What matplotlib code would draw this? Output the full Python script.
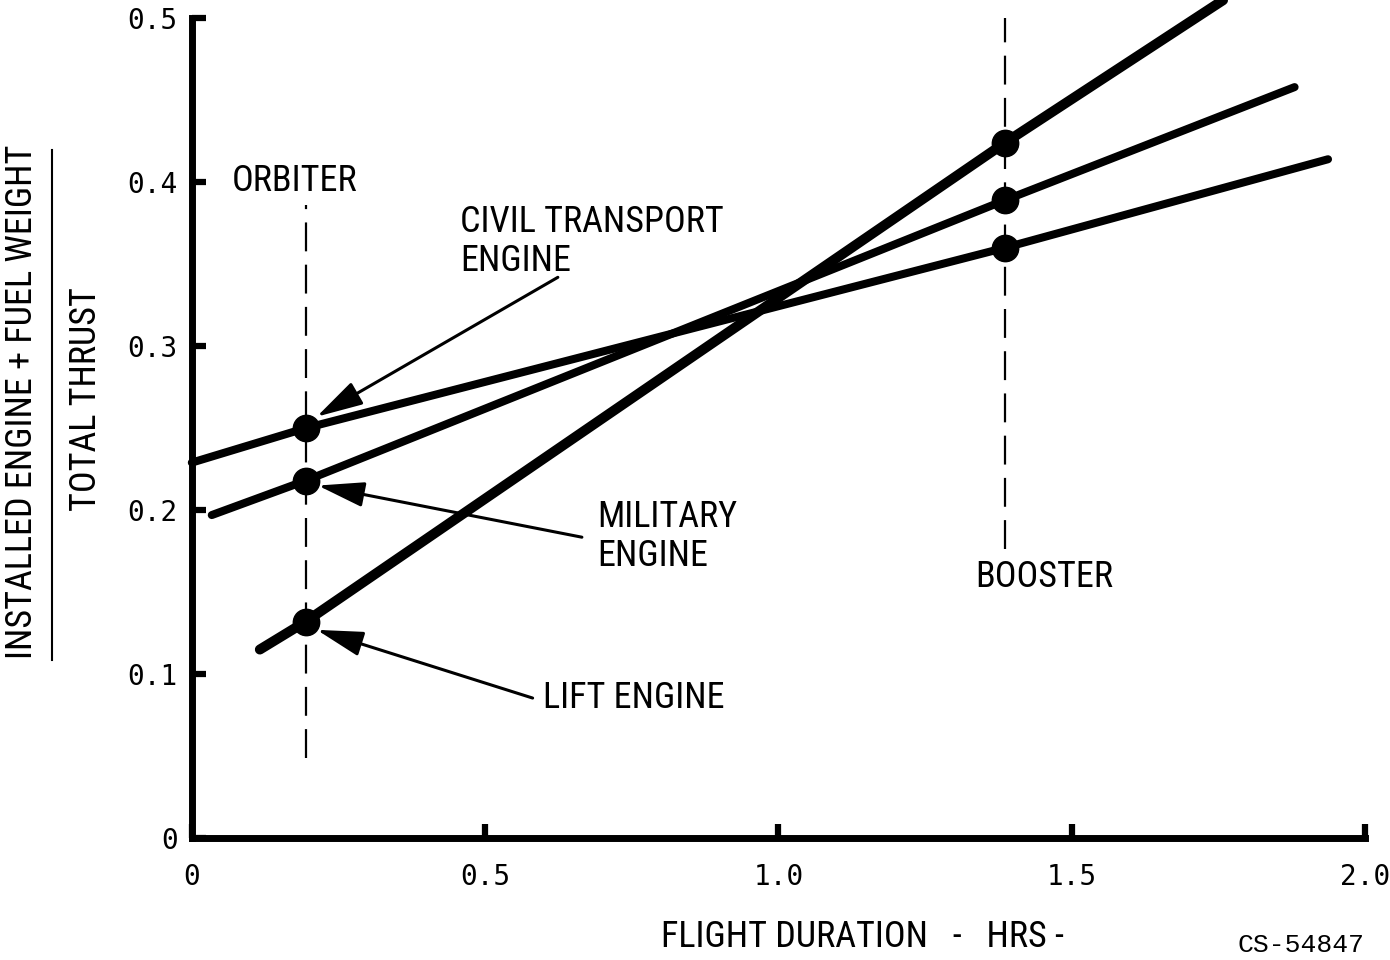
import matplotlib
matplotlib.use("Agg")
import matplotlib.pyplot as plt
from matplotlib import font_manager
from matplotlib.lines import Line2D

# values (x = flight duration hrs, y = weight/thrust)
civil_x = [0.0, 0.194, 1.386, 1.937]
civil_y = [0.229, 0.250, 0.360, 0.414]
military_x = [0.034, 0.194, 1.386, 1.880]
military_y = [0.197, 0.218, 0.389, 0.458]
lift_x = [0.116, 0.194, 1.386, 1.758]
lift_y = [0.115, 0.132, 0.424, 0.511]

orbiter_x = 0.194
orbiter_span = [0.049, 0.386]
booster_x = 1.386
booster_span = [0.176, 0.500]

x_ticks = [0, 0.5, 1.0, 1.5, 2.0]
x_ticklabels = ["0", "0.5", "1.0", "1.5", "2.0"]
y_ticks = [0, 0.1, 0.2, 0.3, 0.4, 0.5]
y_ticklabels = ["0", "0.1", "0.2", "0.3", "0.4", "0.5"]


def _narrow_font():
    """Pick a condensed sans face if one is installed, else Liberation Sans."""
    fonts = font_manager.fontManager.ttflist
    for f in fonts:
        if f.name in ("Liberation Sans Narrow", "Roboto Condensed", "Open Sans Condensed") \
                and f.style == "normal" and f.weight in (400, "normal", "regular"):
            return font_manager.FontProperties(fname=f.fname), True
    for f in fonts:
        if f.name in ("DejaVu Sans", "Noto Sans", "Open Sans") and f.style == "normal" \
                and f.stretch in ("condensed", "semi-condensed") \
                and f.weight in (400, "normal", "regular"):
            return font_manager.FontProperties(fname=f.fname), True
    return font_manager.FontProperties(family="Liberation Sans"), False


LABEL_FP, IS_NARROW = _narrow_font()
SZ = 26 if IS_NARROW else 20
TICK_FONT = "DejaVu Sans Mono"


def lbl(size):
    fp = LABEL_FP.copy()
    fp.set_size(size)
    return fp


fig = plt.figure(figsize=(13.9, 9.6), dpi=100)
ax = fig.add_axes([0.138, 0.127, 0.844, 0.854])
ax.set_xlim(0, 2.0)
ax.set_ylim(0, 0.5)

for side in ("top", "right"):
    ax.spines[side].set_visible(False)
for side in ("left", "bottom"):
    ax.spines[side].set_linewidth(5)

ax.set_xticks(x_ticks)
ax.set_xticklabels(x_ticklabels, fontfamily=TICK_FONT, fontsize=20)
ax.set_yticks(y_ticks)
ax.set_yticklabels(y_ticklabels, fontfamily=TICK_FONT, fontsize=20)
ax.tick_params(axis="x", direction="in", length=10, width=4.5, pad=18)
ax.tick_params(axis="y", direction="in", length=10, width=4.5, pad=10)

# the three engine lines
ax.plot(civil_x, civil_y, color="black", lw=5.8, solid_capstyle="round", clip_on=False)
ax.plot(military_x, military_y, color="black", lw=5.8, solid_capstyle="round", clip_on=False)
ax.plot(lift_x, lift_y, color="black", lw=7.2, solid_capstyle="round", clip_on=False)

mk = dict(marker="o", ms=19, color="black", ls="none", zorder=5)
ax.plot([civil_x[1], military_x[1], lift_x[1]], [civil_y[1], military_y[1], lift_y[1]], **mk)
ax.plot([civil_x[2], military_x[2], lift_x[2]], [civil_y[2], military_y[2], lift_y[2]], **mk)

# orbiter / booster dashed markers
dash = dict(color="black", lw=1.6, dashes=(13, 6))
ax.plot([orbiter_x, orbiter_x], orbiter_span, **dash)
ax.plot([booster_x, booster_x], booster_span, **dash)

txt = dict(fontproperties=lbl(SZ), va="center", ha="left")
ax.text(0.068, 0.401, "ORBITER", **txt)
ax.text(1.335, 0.159, "BOOSTER", **txt)
ax.text(0.457, 0.364, "CIVIL TRANSPORT\nENGINE", linespacing=1.1, **txt)
ax.text(0.692, 0.184, "MILITARY\nENGINE", linespacing=1.1, **txt)
ax.text(0.598, 0.0854, "LIFT ENGINE", **txt)

arrow = dict(arrowstyle="-|>,head_length=1.3,head_width=0.35", color="black",
             lw=2.2, mutation_scale=22, shrinkA=0, shrinkB=0)
ax.annotate("", xy=(0.213, 0.257), xytext=(0.624, 0.342), arrowprops=arrow)
ax.annotate("", xy=(0.215, 0.215), xytext=(0.665, 0.1835), arrowprops=arrow)
ax.annotate("", xy=(0.213, 0.127), xytext=(0.581, 0.0854), arrowprops=arrow)

ax.set_xlabel("FLIGHT DURATION   -   HRS -", fontproperties=lbl(SZ), va="center")
ax.xaxis.set_label_coords(0.572, -0.121)

# y label drawn as a fraction
fig.text(0.016, 0.581, "INSTALLED ENGINE + FUEL WEIGHT", rotation=90,
         ha="center", va="center", fontproperties=lbl(SZ))
fig.text(0.062, 0.584, "TOTAL THRUST", rotation=90,
         ha="center", va="center", fontproperties=lbl(SZ))
fig.add_artist(Line2D([0.0374, 0.0374], [0.3125, 0.844], color="black", lw=1.5,
                      transform=fig.transFigure))

fig.text(0.982, 0.016, "CS-54847", ha="right", va="center",
         fontfamily="Liberation Mono", fontsize=19)

fig.savefig("out.png", dpi=100)
